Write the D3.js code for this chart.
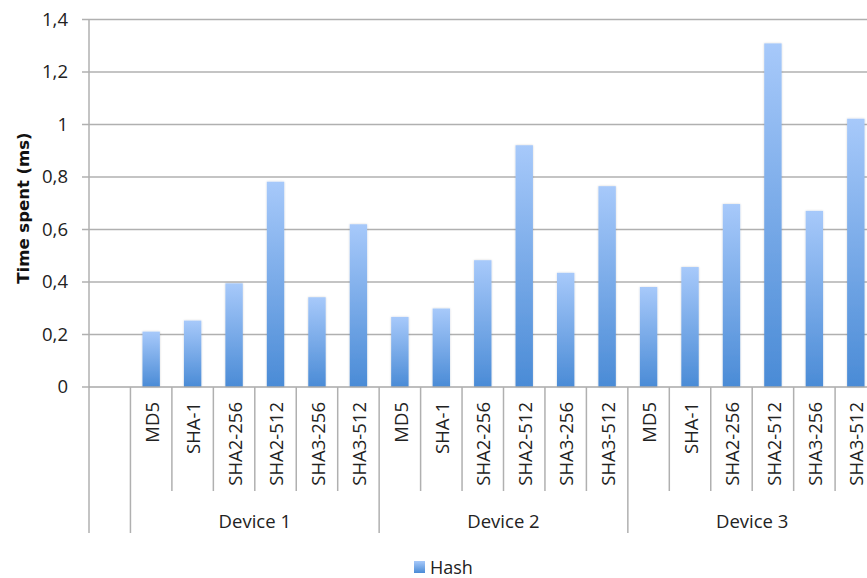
<!DOCTYPE html>
<html>
<head>
<meta charset="utf-8">
<script src="https://cdn.jsdelivr.net/npm/d3@7"></script>
<style>
  html, body { margin: 0; padding: 0; background: #fff; }
  svg { display: block; font-family: "Open Sans", sans-serif; }
</style>
</head>
<body>
<svg id="chart" width="867" height="578"></svg>
<script>
// Hash timing per device (ms)
const devices = ["Device 1", "Device 2", "Device 3"];
const algorithms = ["MD5", "SHA-1", "SHA2-256", "SHA2-512", "SHA3-256", "SHA3-512"];
const device1 = [0.211, 0.253, 0.395, 0.782, 0.342, 0.620];
const device2 = [0.267, 0.299, 0.483, 0.921, 0.435, 0.765];
const device3 = [0.381, 0.457, 0.697, 1.309, 0.671, 1.022];
const yTicks = [0, 0.2, 0.4, 0.6, 0.8, 1.0, 1.2, 1.4];
const seriesName = "Hash";

const seriesByDevice = [device1, device2, device3];

// Flat row list; a leading empty slot precedes the first device group
const rows = [{ key: "blank", device: null, algo: "", value: null }];
devices.forEach((d, i) => {
  algorithms.forEach((a, j) => {
    rows.push({ key: d + "|" + a, device: d, algo: a, value: seriesByDevice[i][j] });
  });
});

const svg = d3.select("#chart");
const plotLeft = 89, plotTop = 19.5, plotBottom = 387;
const band = 41.45;

const x = d3.scaleBand()
  .domain(rows.map(r => r.key))
  .range([plotLeft, plotLeft + band * rows.length])
  .padding(0);

const y = d3.scaleLinear().domain([0, 1.4]).range([plotBottom, plotTop]);

const fmt = v => d3.format("~g")(v).replace(".", ",");

// Gradient for bar fill
const defs = svg.append("defs");
const grad = defs.append("linearGradient")
  .attr("id", "barGrad").attr("x1", 0).attr("y1", 0).attr("x2", 0).attr("y2", 1);
grad.append("stop").attr("offset", "0%").attr("stop-color", "#a7c9fa");
grad.append("stop").attr("offset", "100%").attr("stop-color", "#4a8bd6");

const shadow = defs.append("filter").attr("id", "barShadow")
  .attr("x", "-30%").attr("y", "-5%").attr("width", "160%").attr("height", "110%");
shadow.append("feGaussianBlur").attr("in", "SourceAlpha").attr("stdDeviation", 1.2).attr("result", "b");
shadow.append("feComponentTransfer").attr("in", "b").attr("result", "s")
  .append("feFuncA").attr("type", "linear").attr("slope", 0.18);
const merge = shadow.append("feMerge");
merge.append("feMergeNode").attr("in", "s");
merge.append("feMergeNode").attr("in", "SourceGraphic");

// Y axis labels
const yAxis = d3.axisLeft(y)
  .tickValues(yTicks)
  .tickFormat(fmt)
  .tickSize(0)
  .tickPadding(21);

const gy = svg.append("g").attr("transform", `translate(${plotLeft},0)`).call(yAxis);
gy.select(".domain").remove();
gy.selectAll(".tick text")
  .attr("fill", "#222").attr("font-size", 18.5)
  .attr("font-family", "Open Sans, sans-serif");

// Horizontal gridlines
svg.append("g").selectAll("line")
  .data(yTicks.filter(t => t > 0))
  .join("line")
  .attr("x1", plotLeft - 7).attr("x2", 867)
  .attr("y1", d => y(d)).attr("y2", d => y(d))
  .attr("stroke", "#b0b0b0").attr("stroke-width", 1.5);

// Y axis line
svg.append("line")
  .attr("x1", plotLeft).attr("x2", plotLeft)
  .attr("y1", y(1.4)).attr("y2", 533)
  .attr("stroke", "#b0b0b0").attr("stroke-width", 1.5);
svg.append("line")
  .attr("x1", plotLeft - 7).attr("x2", plotLeft)
  .attr("y1", y(0)).attr("y2", y(0))
  .attr("stroke", "#b0b0b0").attr("stroke-width", 1.5);

// Bars
const barW = x.bandwidth() * 0.42;
svg.append("g").selectAll("rect")
  .data(rows.filter(r => r.value !== null))
  .join("rect")
  .attr("x", d => x(d.key) + (x.bandwidth() - barW) / 2)
  .attr("width", barW)
  .attr("y", d => y(d.value))
  .attr("height", d => y(0) - y(d.value))
  .attr("fill", "url(#barGrad)")
  .attr("filter", "url(#barShadow)");

// Baseline
svg.append("line")
  .attr("x1", plotLeft).attr("x2", 867)
  .attr("y1", y(0)).attr("y2", y(0))
  .attr("stroke", "#a8a8a8").attr("stroke-width", 1.5);

// Category separators: short between algorithms, long between groups
const groupStarts = new Set([0, 1, 7, 13, 19]);
svg.append("g").selectAll("line")
  .data(d3.range(1, rows.length + 1))
  .join("line")
  .attr("x1", i => plotLeft + band * i).attr("x2", i => plotLeft + band * i)
  .attr("y1", y(0))
  .attr("y2", i => groupStarts.has(i) ? 533 : 491)
  .attr("stroke", "#b0b0b0").attr("stroke-width", 1.5);

// Algorithm labels (rotated)
svg.append("g").selectAll("text")
  .data(rows.filter(r => r.value !== null))
  .join("text")
  .attr("transform", d => `translate(${x(d.key) + x.bandwidth() / 2 + 1},402) rotate(-90)`)
  .attr("text-anchor", "end")
  .attr("dy", "0.36em")
  .attr("font-size", 18.5)
  .attr("fill", "#222")
  .text(d => d.algo);

// Device group labels
svg.append("g").selectAll("text")
  .data(devices)
  .join("text")
  .attr("x", (d, i) => plotLeft + band * (1 + i * 6 + 3))
  .attr("y", 528)
  .attr("text-anchor", "middle")
  .attr("font-size", 18.5)
  .attr("fill", "#222")
  .text(d => d);

// Y axis title
svg.append("text")
  .attr("transform", "translate(29,208) rotate(-90)")
  .attr("text-anchor", "middle")
  .attr("font-family", "DejaVu Sans, sans-serif")
  .attr("font-size", 16.5)
  .attr("font-weight", "bold")
  .attr("fill", "#111")
  .text("Time spent (ms)");

// Legend
const lg = svg.append("g").attr("transform", "translate(414,561)");
lg.append("rect").attr("width", 11).attr("height", 12).attr("fill", "url(#barGrad)");
lg.append("text").attr("x", 16).attr("y", 13).attr("font-size", 18).attr("fill", "#222").text(seriesName);
</script>
</body>
</html>
